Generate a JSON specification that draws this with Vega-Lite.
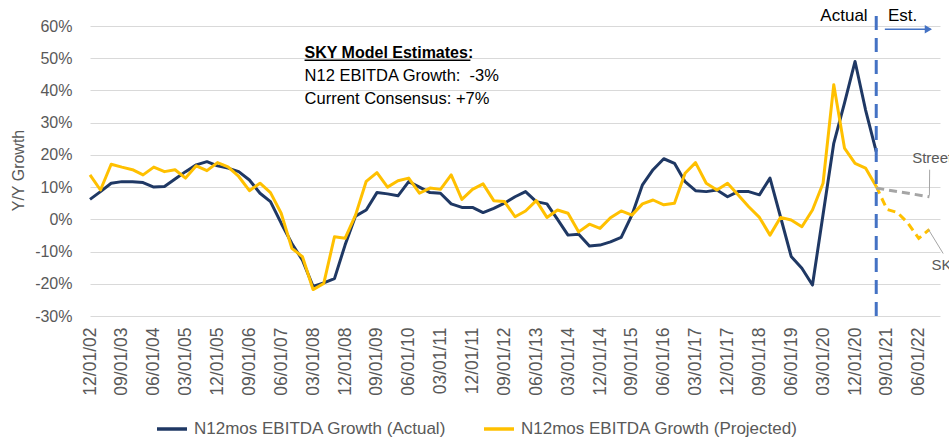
{
  "$schema": "https://vega.github.io/schema/vega-lite/v6.json",
  "width": 850,
  "height": 290,
  "autosize": {"type": "none"},
  "padding": {"left": 90, "top": 26, "right": 9, "bottom": 122},
  "background": "white",
  "config": {"view": {"stroke": null}, "font": "Liberation Sans", "text": {"font": "Liberation Sans"}},
  "datasets": {
    "growth": [
      {"date":"2002-12-01","series":"Actual","value":6.2},{"date":"2003-03-01","series":"Actual","value":8.6},{"date":"2003-06-01","series":"Actual","value":11.2},{"date":"2003-09-01","series":"Actual","value":11.7},{"date":"2003-12-01","series":"Actual","value":11.7},{"date":"2004-03-01","series":"Actual","value":11.4},{"date":"2004-06-01","series":"Actual","value":10.0},{"date":"2004-09-01","series":"Actual","value":10.2},{"date":"2004-12-01","series":"Actual","value":12.5},{"date":"2005-03-01","series":"Actual","value":14.8},
      {"date":"2005-06-01","series":"Actual","value":16.9},{"date":"2005-09-01","series":"Actual","value":17.9},{"date":"2005-12-01","series":"Actual","value":16.6},{"date":"2006-03-01","series":"Actual","value":15.9},{"date":"2006-06-01","series":"Actual","value":14.8},{"date":"2006-09-01","series":"Actual","value":12.2},{"date":"2006-12-01","series":"Actual","value":8.1},{"date":"2007-03-01","series":"Actual","value":5.5},{"date":"2007-06-01","series":"Actual","value":-1.2},{"date":"2007-09-01","series":"Actual","value":-7.5},
      {"date":"2007-12-01","series":"Actual","value":-12.7},{"date":"2008-03-01","series":"Actual","value":-20.8},{"date":"2008-06-01","series":"Actual","value":-19.7},{"date":"2008-09-01","series":"Actual","value":-18.4},{"date":"2008-12-01","series":"Actual","value":-8.0},{"date":"2009-03-01","series":"Actual","value":1.0},{"date":"2009-06-01","series":"Actual","value":2.9},{"date":"2009-09-01","series":"Actual","value":8.3},{"date":"2009-12-01","series":"Actual","value":7.9},{"date":"2010-03-01","series":"Actual","value":7.3},
      {"date":"2010-06-01","series":"Actual","value":11.7},{"date":"2010-09-01","series":"Actual","value":10.0},{"date":"2010-12-01","series":"Actual","value":8.3},{"date":"2011-03-01","series":"Actual","value":8.1},{"date":"2011-06-01","series":"Actual","value":4.8},{"date":"2011-09-01","series":"Actual","value":3.7},{"date":"2011-12-01","series":"Actual","value":3.7},{"date":"2012-03-01","series":"Actual","value":2.1},{"date":"2012-06-01","series":"Actual","value":3.4},{"date":"2012-09-01","series":"Actual","value":5.0},
      {"date":"2012-12-01","series":"Actual","value":7.0},{"date":"2013-03-01","series":"Actual","value":8.6},{"date":"2013-06-01","series":"Actual","value":5.5},{"date":"2013-09-01","series":"Actual","value":4.8},{"date":"2013-12-01","series":"Actual","value":0.0},{"date":"2014-03-01","series":"Actual","value":-4.9},{"date":"2014-06-01","series":"Actual","value":-4.6},{"date":"2014-09-01","series":"Actual","value":-8.3},{"date":"2014-12-01","series":"Actual","value":-8.0},{"date":"2015-03-01","series":"Actual","value":-7.0},
      {"date":"2015-06-01","series":"Actual","value":-5.6},{"date":"2015-09-01","series":"Actual","value":1.3},{"date":"2015-12-01","series":"Actual","value":10.7},{"date":"2016-03-01","series":"Actual","value":15.4},{"date":"2016-06-01","series":"Actual","value":18.8},{"date":"2016-09-01","series":"Actual","value":17.4},{"date":"2016-12-01","series":"Actual","value":11.7},{"date":"2017-03-01","series":"Actual","value":8.9},{"date":"2017-06-01","series":"Actual","value":8.6},{"date":"2017-09-01","series":"Actual","value":9.1},
      {"date":"2017-12-01","series":"Actual","value":7.0},{"date":"2018-03-01","series":"Actual","value":8.6},{"date":"2018-06-01","series":"Actual","value":8.6},{"date":"2018-09-01","series":"Actual","value":7.6},{"date":"2018-12-01","series":"Actual","value":12.8},{"date":"2019-03-01","series":"Actual","value":0.8},{"date":"2019-06-01","series":"Actual","value":-11.5},{"date":"2019-09-01","series":"Actual","value":-15.2},{"date":"2019-12-01","series":"Actual","value":-20.4},{"date":"2020-03-01","series":"Actual","value":1.5},
      {"date":"2020-06-01","series":"Actual","value":23.6},{"date":"2020-09-01","series":"Actual","value":36.1},{"date":"2020-12-01","series":"Actual","value":49.0},{"date":"2021-03-01","series":"Actual","value":34.0},{"date":"2021-06-01","series":"Actual","value":21.0},
      {"date":"2002-12-01","series":"Projected","value":13.8},{"date":"2003-03-01","series":"Projected","value":9.1},{"date":"2003-06-01","series":"Projected","value":17.1},{"date":"2003-09-01","series":"Projected","value":16.2},{"date":"2003-12-01","series":"Projected","value":15.4},{"date":"2004-03-01","series":"Projected","value":13.8},{"date":"2004-06-01","series":"Projected","value":16.2},{"date":"2004-09-01","series":"Projected","value":14.8},{"date":"2004-12-01","series":"Projected","value":15.4},{"date":"2005-03-01","series":"Projected","value":12.8},
      {"date":"2005-06-01","series":"Projected","value":16.6},{"date":"2005-09-01","series":"Projected","value":15.1},{"date":"2005-12-01","series":"Projected","value":17.6},{"date":"2006-03-01","series":"Projected","value":16.3},{"date":"2006-06-01","series":"Projected","value":13.3},{"date":"2006-09-01","series":"Projected","value":8.9},{"date":"2006-12-01","series":"Projected","value":11.2},{"date":"2007-03-01","series":"Projected","value":8.3},{"date":"2007-06-01","series":"Projected","value":1.9},{"date":"2007-09-01","series":"Projected","value":-9.0},
      {"date":"2007-12-01","series":"Projected","value":-11.6},{"date":"2008-03-01","series":"Projected","value":-21.8},{"date":"2008-06-01","series":"Projected","value":-19.9},{"date":"2008-09-01","series":"Projected","value":-5.4},{"date":"2008-12-01","series":"Projected","value":-5.9},{"date":"2009-03-01","series":"Projected","value":1.3},{"date":"2009-06-01","series":"Projected","value":11.8},{"date":"2009-09-01","series":"Projected","value":14.5},{"date":"2009-12-01","series":"Projected","value":10.0},{"date":"2010-03-01","series":"Projected","value":12.0},
      {"date":"2010-06-01","series":"Projected","value":12.8},{"date":"2010-09-01","series":"Projected","value":8.1},{"date":"2010-12-01","series":"Projected","value":9.7},{"date":"2011-03-01","series":"Projected","value":9.3},{"date":"2011-06-01","series":"Projected","value":13.8},{"date":"2011-09-01","series":"Projected","value":6.2},{"date":"2011-12-01","series":"Projected","value":9.3},{"date":"2012-03-01","series":"Projected","value":11.0},{"date":"2012-06-01","series":"Projected","value":5.8},{"date":"2012-09-01","series":"Projected","value":5.5},
      {"date":"2012-12-01","series":"Projected","value":0.8},{"date":"2013-03-01","series":"Projected","value":2.6},{"date":"2013-06-01","series":"Projected","value":5.8},{"date":"2013-09-01","series":"Projected","value":0.6},{"date":"2013-12-01","series":"Projected","value":2.9},{"date":"2014-03-01","series":"Projected","value":1.9},{"date":"2014-06-01","series":"Projected","value":-3.9},{"date":"2014-09-01","series":"Projected","value":-1.5},{"date":"2014-12-01","series":"Projected","value":-2.8},{"date":"2015-03-01","series":"Projected","value":0.5},
      {"date":"2015-06-01","series":"Projected","value":2.6},{"date":"2015-09-01","series":"Projected","value":1.3},{"date":"2015-12-01","series":"Projected","value":4.8},{"date":"2016-03-01","series":"Projected","value":6.0},{"date":"2016-06-01","series":"Projected","value":4.5},{"date":"2016-09-01","series":"Projected","value":5.0},{"date":"2016-12-01","series":"Projected","value":14.3},{"date":"2017-03-01","series":"Projected","value":17.6},{"date":"2017-06-01","series":"Projected","value":11.2},{"date":"2017-09-01","series":"Projected","value":9.1},
      {"date":"2017-12-01","series":"Projected","value":11.2},{"date":"2018-03-01","series":"Projected","value":7.6},{"date":"2018-06-01","series":"Projected","value":3.9},{"date":"2018-09-01","series":"Projected","value":0.6},{"date":"2018-12-01","series":"Projected","value":-4.9},{"date":"2019-03-01","series":"Projected","value":0.6},{"date":"2019-06-01","series":"Projected","value":-0.2},{"date":"2019-09-01","series":"Projected","value":-2.3},{"date":"2019-12-01","series":"Projected","value":2.9},{"date":"2020-03-01","series":"Projected","value":11.2},
      {"date":"2020-06-01","series":"Projected","value":41.8},{"date":"2020-09-01","series":"Projected","value":22.1},{"date":"2020-12-01","series":"Projected","value":17.4},{"date":"2021-03-01","series":"Projected","value":15.9},{"date":"2021-06-01","series":"Projected","value":10.2},
      {"date":"2021-06-01","series":"SKY","value":10.2},{"date":"2021-09-01","series":"SKY","value":3.1},{"date":"2021-12-01","series":"SKY","value":2.1},{"date":"2022-03-01","series":"SKY","value":-1.2},{"date":"2022-06-01","series":"SKY","value":-5.9},{"date":"2022-09-01","series":"SKY","value":-3.1},
      {"date":"2021-06-01","series":"Street","value":9.7},{"date":"2022-09-01","series":"Street","value":7.0}
    ]
  },
  "encoding": {
    "x": {
      "field": "date", "type": "temporal",
      "scale": {"type": "utc", "domain": [{"year": 2002, "month": 12, "date": 1, "utc": true}, {"year": 2022, "month": 12, "date": 1, "utc": true}]},
      "axis": {
        "title": null, "format": "%m/%d/%y", "labelAngle": -90, "labelFontSize": 17.5, "labelColor": "#595959",
        "labelPadding": 11, "ticks": false, "domain": false, "grid": false, "labelOverlap": false, "labelFlush": false, "labelBound": false,
        "values": [
          {"year":2002,"month":12,"date":1,"utc":true},{"year":2003,"month":9,"date":1,"utc":true},{"year":2004,"month":6,"date":1,"utc":true},
          {"year":2005,"month":3,"date":1,"utc":true},{"year":2005,"month":12,"date":1,"utc":true},{"year":2006,"month":9,"date":1,"utc":true},
          {"year":2007,"month":6,"date":1,"utc":true},{"year":2008,"month":3,"date":1,"utc":true},{"year":2008,"month":12,"date":1,"utc":true},
          {"year":2009,"month":9,"date":1,"utc":true},{"year":2010,"month":6,"date":1,"utc":true},{"year":2011,"month":3,"date":1,"utc":true},
          {"year":2011,"month":12,"date":1,"utc":true},{"year":2012,"month":9,"date":1,"utc":true},{"year":2013,"month":6,"date":1,"utc":true},
          {"year":2014,"month":3,"date":1,"utc":true},{"year":2014,"month":12,"date":1,"utc":true},{"year":2015,"month":9,"date":1,"utc":true},
          {"year":2016,"month":6,"date":1,"utc":true},{"year":2017,"month":3,"date":1,"utc":true},{"year":2017,"month":12,"date":1,"utc":true},
          {"year":2018,"month":9,"date":1,"utc":true},{"year":2019,"month":6,"date":1,"utc":true},{"year":2020,"month":3,"date":1,"utc":true},
          {"year":2020,"month":12,"date":1,"utc":true},{"year":2021,"month":9,"date":1,"utc":true},{"year":2022,"month":6,"date":1,"utc":true}
        ]
      }
    },
    "y": {
      "field": "value", "type": "quantitative",
      "scale": {"domain": [-30, 60], "nice": false, "zero": false},
      "axis": {
        "values": [-30, -20, -10, 0, 10, 20, 30, 40, 50, 60], "labelExpr": "datum.value + '%'",
        "grid": true, "gridColor": "#d9d9d9", "gridWidth": 1, "domain": false, "ticks": false,
        "labelPadding": 18, "labelFontSize": 16, "labelColor": "#595959",
        "title": "Y/Y Growth", "titleFontSize": 16, "titleFontWeight": "normal", "titleColor": "#595959",
        "titleX": -72, "titleY": 144, "titleAngle": -90, "titleAlign": "center", "titleBaseline": "middle"
      }
    }
  },
  "layer": [
    {
      "data": {"name": "growth"},
      "transform": [{"filter": "datum.series == 'Actual'"}],
      "mark": {"type": "line", "strokeWidth": 3, "strokeJoin": "round"},
      "encoding": {
        "color": {
          "field": "series", "type": "nominal",
          "scale": {"domain": ["Actual", "Projected"], "range": ["#1F3864", "#FFC000"]},
          "legend": {
            "orient": "none", "legendX": 65, "legendY": 386, "direction": "horizontal", "title": null,
            "symbolType": "stroke", "symbolSize": 900, "symbolStrokeWidth": 3.5,
            "labelFontSize": 17, "labelColor": "#595959", "labelFont": "Liberation Sans", "labelOffset": 5,
            "columnPadding": 30, "padding": 0, "labelLimit": 400,
            "labelExpr": "datum.label == 'Actual' ? 'N12mos EBITDA Growth (Actual)' : 'N12mos EBITDA Growth (Projected)'"
          }
        }
      }
    },
    {
      "data": {"name": "growth"},
      "transform": [{"filter": "datum.series == 'Projected'"}],
      "mark": {"type": "line", "strokeWidth": 3, "strokeJoin": "round"},
      "encoding": {"color": {"field": "series", "type": "nominal"}}
    },
    {
      "data": {"name": "growth"},
      "transform": [{"filter": "datum.series == 'SKY'"}],
      "mark": {"type": "line", "strokeWidth": 3, "color": "#FFC000", "strokeDash": [8, 5]}
    },
    {
      "data": {"name": "growth"},
      "transform": [{"filter": "datum.series == 'Street'"}],
      "mark": {"type": "line", "strokeWidth": 3, "color": "#A5A5A5", "strokeDash": [8, 5]}
    },
    {
      "data": {"values": [{"date": "2021-06-01", "value": -30, "value2": 65.2}]},
      "mark": {"type": "rule", "color": "#4472C4", "strokeWidth": 3, "strokeDash": [14, 8]},
      "encoding": {"y2": {"field": "value2"}}
    },
    {
      "data": {"values": [{"date": "2021-08-14", "date2": "2022-09-10", "value": 59.0}]},
      "mark": {"type": "rule", "color": "#4472C4", "strokeWidth": 1.5},
      "encoding": {"x2": {"field": "date2"}}
    },
    {
      "data": {"values": [{"date": "2022-08-23", "value": 59.0}]},
      "mark": {"type": "point", "shape": "triangle-right", "filled": true, "color": "#4472C4", "size": 70, "opacity": 1}
    },
    {
      "data": {"values": [
        {"date": "2022-09-03", "value": 15.4, "date2": "2022-09-01", "value2": 7.4},
        {"date": "2022-08-23", "value": -3.1, "date2": "2022-12-28", "value2": -10.6}
      ]},
      "mark": {"type": "rule", "color": "#A5A5A5", "strokeWidth": 1},
      "encoding": {"x2": {"field": "date2"}, "y2": {"field": "value2"}}
    },
    {
      "data": {"values": [{"date": "2007-12-19", "date2": "2011-11-13", "value": 49.4}]},
      "mark": {"type": "rule", "color": "#000000", "strokeWidth": 1.5},
      "encoding": {"x2": {"field": "date2"}}
    },
    {
      "data": {"values": [{"date": "2007-12-19", "value": 50.1, "label": "SKY Model Estimates:"}]},
      "mark": {"type": "text", "align": "left", "baseline": "alphabetic", "fontSize": 16, "fontWeight": "bold", "color": "#000000"},
      "encoding": {"text": {"field": "label"}}
    },
    {
      "data": {"values": [
        {"date": "2007-12-19", "value": 42.9, "label": "N12 EBITDA Growth:\u00a0 -3%"},
        {"date": "2007-12-19", "value": 35.8, "label": "Current Consensus: +7%"}
      ]},
      "mark": {"type": "text", "align": "left", "baseline": "alphabetic", "fontSize": 16.5, "color": "#000000"},
      "encoding": {"text": {"field": "label"}}
    },
    {
      "data": {"values": [{"date": "2021-03-19", "value": 61.4, "label": "Actual"}]},
      "mark": {"type": "text", "align": "right", "baseline": "alphabetic", "fontSize": 17, "color": "#000000"},
      "encoding": {"text": {"field": "label"}}
    },
    {
      "data": {"values": [{"date": "2021-09-10", "value": 61.4, "label": "Est."}]},
      "mark": {"type": "text", "align": "left", "baseline": "alphabetic", "fontSize": 17, "color": "#000000"},
      "encoding": {"text": {"field": "label"}}
    },
    {
      "data": {"values": [
        {"date": "2022-04-06", "value": 17.4, "label": "Street"},
        {"date": "2022-09-19", "value": -15.8, "label": "SKY"}
      ]},
      "mark": {"type": "text", "align": "left", "baseline": "alphabetic", "fontSize": 15, "color": "#595959"},
      "encoding": {"text": {"field": "label"}}
    }
  ]
}
